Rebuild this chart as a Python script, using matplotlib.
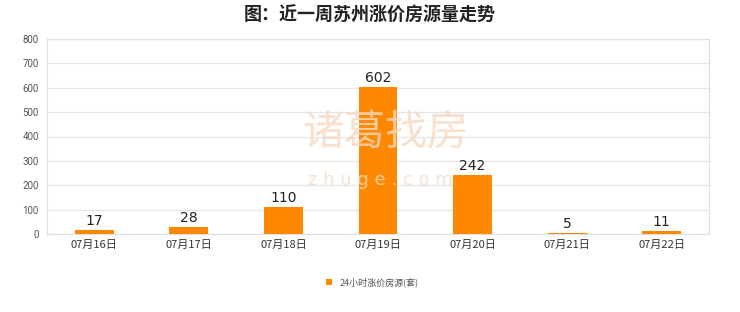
import matplotlib
matplotlib.use("Agg")
import matplotlib.pyplot as plt
from matplotlib.patches import Patch

plt.rcParams['font.family'] = ['Noto Sans CJK SC', 'DejaVu Sans']

title = "图：近一周苏州涨价房源量走势"
categories = ["07月16日", "07月17日", "07月18日", "07月19日", "07月20日", "07月21日", "07月22日"]
values = [17, 28, 110, 602, 242, 5, 11]
series_name = "24小时涨价房源(套)"
yticks = [0, 100, 200, 300, 400, 500, 600, 700, 800]

bar_color = "#FF8800"
grid_color = "#E6E6E6"

fig = plt.figure(figsize=(7.4, 3.12), dpi=100)
ax = fig.add_axes([47/740, 1-234/312, (709-47)/740, (234-39)/312])

x = list(range(len(categories)))
bars = ax.bar(x, values, width=0.41, color=bar_color, zorder=3)
ax.set_xlim(-0.5, len(categories)-0.5)
ax.set_ylim(0, 800)
ax.set_yticks(yticks)
ax.set_yticklabels([str(t) for t in yticks], fontsize=7, color="#555555", family=['Roboto', 'DejaVu Sans'])
ax.set_xticks(x)
ax.set_xticklabels(categories, fontsize=8, color="#333333")
ax.tick_params(axis='both', length=0, pad=6)
ax.tick_params(axis='x', pad=4)
ax.grid(axis='y', color=grid_color, linewidth=0.9, zorder=0)
for s in ax.spines.values():
    s.set_color("#E0E0E0")
    s.set_linewidth(0.9)

for xi, v in zip(x, values):
    ax.text(xi, v + 8, str(v), ha='center', va='bottom', fontsize=10, color="#222222", zorder=4,
            family=['DejaVu Sans'])

# watermark
fig.text(385/740, 1-133/312, "诸葛找房", fontsize=30, color="#F7D9C2", alpha=0.8, ha='center', va='center', zorder=0)
fig.text(380/740, 1-180/312, "z h u g e . c o m", fontsize=13, color="#F7D9C2", alpha=0.8, ha='center', va='center', zorder=0,
         family=['DejaVu Sans'])

fig.text(0.5, 1-15/312, title, ha='center', va='center', fontsize=13, fontweight='bold', color="#222222")

handles = [Patch(facecolor=bar_color, edgecolor='none')]
fig.legend(handles, [series_name], loc='center', bbox_to_anchor=(372/740, 1-282/312),
           frameon=False, fontsize=6.5, handlelength=0.7, handleheight=0.7, labelcolor="#555555",
           handletextpad=0.8)

fig.savefig("out.png", dpi=100, facecolor='white')
